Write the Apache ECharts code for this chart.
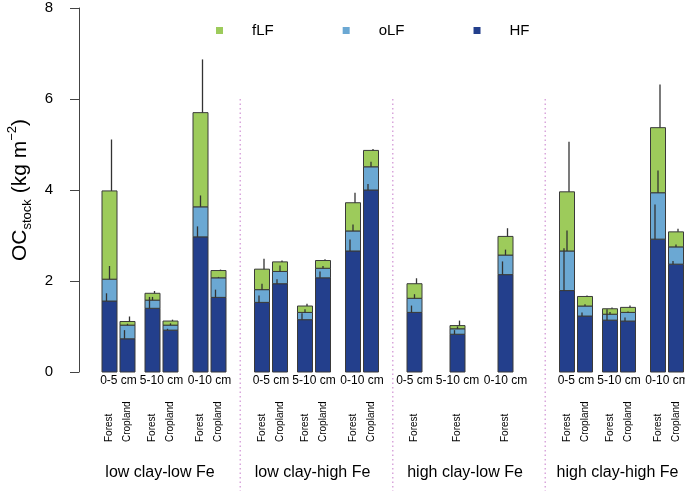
<!DOCTYPE html>
<html>
<head>
<meta charset="utf-8">
<script src="https://cdn.jsdelivr.net/npm/echarts@6/dist/echarts.min.js"></script>
<style>
html, body { margin: 0; padding: 0; background: #fff; }
#chart { width: 685px; height: 491px; }
</style>
</head>
<body>
<div id="chart"></div>
<script>
// data, kg m-2
var groups = ['low clay-low Fe', 'low clay-high Fe', 'high clay-low Fe', 'high clay-high Fe'];
var depths = ['0-5 cm', '5-10 cm', '0-10 cm'];
var landuses = ['Forest', 'Cropland'];

// per group: Forest 0-5, Cropland 0-5, Forest 5-10, Cropland 5-10, Forest 0-10, Cropland 0-10
var hf = [
	[1.56, 0.73, 1.40, 0.92, 2.97, 1.64],
	[1.53, 1.94, 1.15, 2.07, 2.66, 4.00],
	[1.31, null, 0.83, null, 2.14, null],
	[1.79, 1.23, 1.14, 1.12, 2.92, 2.37]
];
var olf = [
	[0.48, 0.30, 0.18, 0.11, 0.66, 0.43],
	[0.28, 0.27, 0.16, 0.21, 0.44, 0.51],
	[0.31, null, 0.12, null, 0.43, null],
	[0.87, 0.22, 0.13, 0.19, 1.02, 0.38]
];
var flf = [
	[1.94, 0.08, 0.15, 0.09, 2.07, 0.16],
	[0.45, 0.21, 0.14, 0.17, 0.62, 0.36],
	[0.32, null, 0.07, null, 0.41, null],
	[1.30, 0.21, 0.12, 0.11, 1.43, 0.33]
];
var hfErr = [
	[0.17, 0.19, 0.25, 0.03, 0.23, 0.17],
	[0.15, 0.10, 0.14, 0.14, 0.25, 0.13],
	[0.15, null, 0.09, null, 0.29, null],
	[0.93, 0.08, 0.24, 0.08, 0.76, 0.07]
];
var olfErr = [
	[0.29, 0.03, 0.07, 0.04, 0.25, 0.02],
	[0.13, 0.13, 0.07, 0.05, 0.14, 0.11],
	[0.09, null, 0.05, null, 0.12, null],
	[0.45, 0.04, 0.05, 0.02, 0.49, 0.05]
];
var flfErr = [
	[1.13, 0.11, 0.05, 0.03, 1.17, 0.02],
	[0.23, 0.03, 0.05, 0.03, 0.22, 0.03],
	[0.12, null, 0.11, null, 0.18, null],
	[1.10, 0.02, 0.03, 0.04, 0.95, 0.07]
];

var FONT = '"Liberation Sans", Arial, sans-serif';
var colHF = '#233f8c', colOLF = '#6ba8d3', colFLF = '#9dcb5b';

// x layout (axis units = px)
var groupStep = 152.5;
var depthOff = [0, 43, 91];
var pairStep = 18;
var barW = 15;

var hfData = [], olfData = [], flfData = [], errData = [];
var depthLab = [], luLab = [], groupLab = [], seps = [];

for (var g = 0; g < groups.length; g++) {
	for (var d = 0; d < depths.length; d++) {
		var xs = [];
		for (var l = 0; l < 2; l++) {
			var i = d * 2 + l;
			if (hf[g][i] == null) continue;
			var x = g * groupStep + depthOff[d] + l * pairStep;
			xs.push(x);
			var a = hf[g][i], b = a + olf[g][i], c = b + flf[g][i];
			hfData.push([x, 0, a]);
			olfData.push([x, a, b]);
			flfData.push([x, b, c]);
			errData.push([x, a, a + hfErr[g][i], -3]);
			errData.push([x, b, b + olfErr[g][i], 0]);
			errData.push([x, c, c + flfErr[g][i], 2]);
			luLab.push([x, l]);
		}
		depthLab.push([(xs[0] + xs[xs.length - 1]) / 2, d]);
	}
	groupLab.push([g * groupStep + (depthOff[2] + pairStep) / 2 - 4, g]);
	if (g < groups.length - 1) seps.push([g * groupStep + 130.75, 0]);
}

function renderBar(params, api) {
	var p0 = api.coord([api.value(0), api.value(1)]);
	var p1 = api.coord([api.value(0), api.value(2)]);
	return {
		type: 'rect',
		shape: { x: p0[0] - barW / 2, y: p1[1], width: barW, height: p0[1] - p1[1] },
		style: { fill: api.visual('color'), stroke: '#3a3a3a', lineWidth: 1 }
	};
}

var chart = echarts.init(document.getElementById('chart'));

var option = {
	animation: false,
	backgroundColor: '#fff',
	textStyle: { fontFamily: FONT },
	legend: {
		data: ['fLF', 'oLF', 'HF'],
		top: 18,
		left: 211,
		icon: 'rect',
		itemWidth: 7,
		itemHeight: 7,
		itemGap: 69,
		itemStyle: { borderWidth: 0 },
		textStyle: { fontSize: 15, color: '#000', fontFamily: FONT, padding: [0, 0, 0, 24] }
	},
	grid: { left: 79, right: 0, top: 8, bottom: 119, outerBoundsMode: 'none', containLabel: false },
	xAxis: {
		type: 'value',
		min: -30.5,
		max: 575.5,
		show: false
	},
	yAxis: {
		type: 'value',
		min: 0,
		max: 8,
		interval: 2,
		name: '{a|OC}{b|stock}{a| (kg m}{c|\u22122}{a|)}',
		nameLocation: 'middle',
		nameGap: 45,
		nameRotate: 90,
		nameTextStyle: {
			rich: {
				a: { fontSize: 21, fontFamily: FONT, color: '#000', lineHeight: 28, verticalAlign: 'middle' },
				b: { fontSize: 13, fontFamily: FONT, color: '#000', lineHeight: 28, verticalAlign: 'bottom' },
				c: { fontSize: 13, fontFamily: FONT, color: '#000', lineHeight: 28, verticalAlign: 'top' }
			}
		},
		axisLine: { show: true, onZero: false, lineStyle: { color: '#444', width: 1 } },
		axisTick: { show: true, length: 9, lineStyle: { color: '#444' } },
		axisLabel: { fontSize: 15, color: '#000', margin: 26, fontFamily: FONT },
		splitLine: { show: false }
	},
	series: [
		{
			name: 'HF', type: 'custom', clip: false,
			itemStyle: { color: colHF },
			encode: { x: 0, y: [1, 2] },
			renderItem: renderBar,
			data: hfData
		},
		{
			name: 'oLF', type: 'custom', clip: false,
			itemStyle: { color: colOLF },
			encode: { x: 0, y: [1, 2] },
			renderItem: renderBar,
			data: olfData
		},
		{
			name: 'fLF', type: 'custom', clip: false,
			itemStyle: { color: colFLF },
			encode: { x: 0, y: [1, 2] },
			renderItem: renderBar,
			data: flfData
		},
		{
			// error bars (upper only)
			type: 'custom', silent: true, clip: false,
			data: errData,
			renderItem: function (params, api) {
				var p1 = api.coord([api.value(0), api.value(1)]);
				var p2 = api.coord([api.value(0), api.value(2)]);
				var dx = api.value(3);
				return {
					type: 'line',
					shape: { x1: p1[0] + dx, y1: p1[1], x2: p2[0] + dx, y2: p2[1] },
					style: { stroke: '#333', lineWidth: 1.3 }
				};
			}
		},
		{
			// group separators
			type: 'custom', silent: true, clip: false,
			data: seps,
			renderItem: function (params, api) {
				var p = api.coord([api.value(0), 6]);
				return {
					type: 'line',
					shape: { x1: p[0], y1: p[1], x2: p[0], y2: 491 },
					style: { stroke: '#d9a6dc', lineWidth: 1.5, lineDash: [1.5, 3] }
				};
			}
		},
		{
			type: 'custom', silent: true, clip: false,
			data: depthLab,
			renderItem: function (params, api) {
				var p = api.coord([api.value(0), 0]);
				return {
					type: 'text', x: p[0], y: p[1] + 9,
					style: { text: depths[api.value(1)], fill: '#000', font: '12px ' + FONT, align: 'center', verticalAlign: 'middle' }
				};
			}
		},
		{
			type: 'custom', silent: true, clip: false,
			data: luLab,
			renderItem: function (params, api) {
				var p = api.coord([api.value(0), 0]);
				return {
					type: 'text', x: p[0], y: 442, rotation: Math.PI / 2,
					style: { text: landuses[api.value(1)], fill: '#000', font: '10px ' + FONT, align: 'left', verticalAlign: 'middle' }
				};
			}
		},
		{
			type: 'custom', silent: true, clip: false,
			data: groupLab,
			renderItem: function (params, api) {
				var p = api.coord([api.value(0), 0]);
				return {
					type: 'text', x: p[0], y: 473,
					style: { text: groups[api.value(1)], fill: '#000', font: '16px ' + FONT, align: 'center', verticalAlign: 'middle' }
				};
			}
		}
	]
};

chart.setOption(option);
</script>
</body>
</html>
